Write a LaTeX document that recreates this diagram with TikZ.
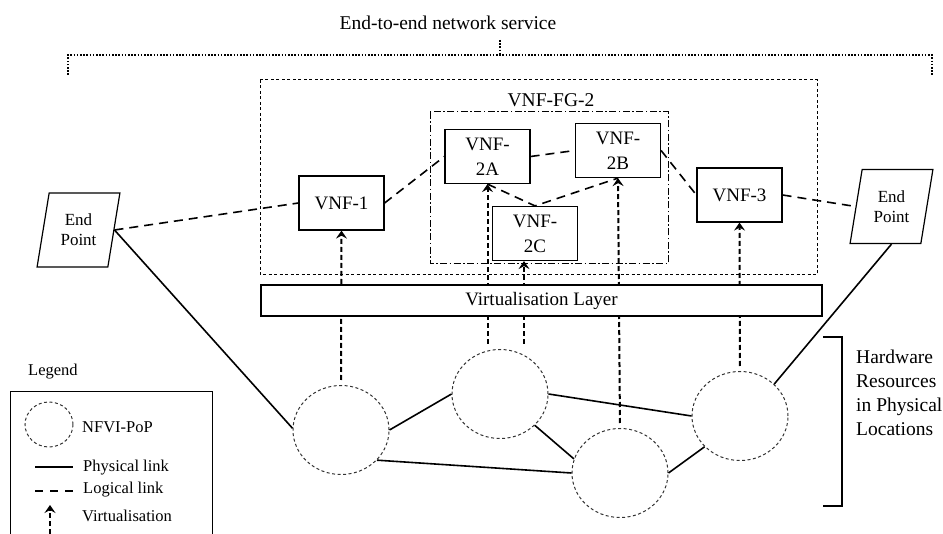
\documentclass[tikz,border=0pt]{standalone}
\usepackage{fontspec}
\setmainfont{Liberation Serif}
\usetikzlibrary{shapes.geometric, arrows.meta}

\begin{document}
\begin{tikzpicture}[x=1pt, y=-1pt,
    vnfbox/.style={draw, line width=1.2pt, fill=white, minimum width=85pt, minimum height=54pt, align=center, inner sep=1pt, font=\fontsize{19}{25}\selectfont},
    endpt/.style={draw, line width=1.2pt, shape=trapezium, trapezium left angle=77, trapezium right angle=103, trapezium stretches=true, minimum width=83pt, minimum height=74pt, align=center, inner sep=0pt, font=\fontsize{17}{20}\selectfont},
    popnode/.style={draw=black!80, shape=ellipse, line width=1pt, dash pattern=on 3pt off 2.5pt, minimum width=96pt, minimum height=89pt, inner sep=0pt},
    phys/.style={line width=1.6pt},
    logic/.style={line width=1.6pt, dash pattern=on 9pt off 6pt},
    virt/.style={line width=2pt, dash pattern=on 5pt off 3pt, -{Stealth[length=8pt, width=11pt, inset=3pt]}, shorten <=5pt},
    lgd/.style={anchor=west, inner sep=0pt, font=\fontsize{16.5}{20}\selectfont},
    bigtxt/.style={inner sep=0pt, font=\fontsize{19.5}{24}\selectfont}
]
    \useasboundingbox (0,0) rectangle (943,534);

    % End-to-end service bracket
    \node[bigtxt] (e2e) at (448,23) {End-to-end network service};
    \draw[line width=2pt, dash pattern=on 1.6pt off 1.6pt] (68,75) -- (68,55) -- (932,55) -- (932,75);
    \draw[line width=2pt, dash pattern=on 1.6pt off 1.6pt] (500,40) -- (500,55);

    % Service boxes
    \draw[line width=1pt, dash pattern=on 3pt off 2.5pt] (260,80) rectangle (817,275);
    \draw[line width=1pt, dash pattern=on 7pt off 2.5pt on 1.5pt off 2.5pt] (430,112) rectangle (668,264);
    \node[bigtxt] (fg2) at (551,100) {VNF-FG-2};

    % NFVI-PoPs
    \node[popnode] (c1) at (341,430) {};
    \node[popnode] (c2) at (500,394) {};
    \node[popnode] (c3) at (620,473) {};
    \node[popnode] (c4) at (740,416) {};

    % VNFs
    \node[vnfbox] (vnf1) at (341.5,203) {VNF-1};
    \node[vnfbox] (vnf2a) at (487.5,156.5) {VNF-\\2A};
    \node[vnfbox] (vnf2b) at (618,150.5) {VNF-\\2B};
    \node[vnfbox] (vnf2c) at (535,233.5) {VNF-\\2C};
    \node[vnfbox] (vnf3) at (739.5,195) {VNF-3};

    % End points
    \node[endpt] (ep1) at (78.5,230) {End\\Point};
    \node[endpt] (ep2) at (891.5,206.5) {End\\Point};

    % Logical links
    \draw[logic] (ep1.east) -- (vnf1.west);
    \draw[logic] (vnf1.east) -- (vnf2a.west);
    \draw[logic] (vnf2a.east) -- (vnf2b.west);
    \draw[logic] (vnf2a.south) -- (vnf2c.north) -- (vnf2b.south);
    \draw[logic] (vnf2b.east) -- (vnf3.west);
    \draw[logic] (vnf3.east) -- (ep2.west);

    % Physical links
    \draw[phys] (ep1.east) -- (c1.178);
    \draw[phys] (c1.0) -- (c2.180);
    \draw[phys] (c1.320) -- (c3.180);
    \draw[phys] (c2.318) -- (c3.163);
    \draw[phys] (c2.0) -- (c4.180);
    \draw[phys] (c3.0) -- (c4.221);
    \draw[phys] (c4.43) -- (ep2.south);

    % Virtualisation
    \coordinate (v2c) at ([xshift=-11pt]vnf2c.south);
    \draw[virt] (c1.north) -- (vnf1.south);
    \draw[virt] (vnf2a.south |- c2.north) -- (vnf2a.south);
    \draw[virt] (v2c |- c2.north) -- (v2c);
    \draw[virt] (c3.north) -- (vnf2b.south);
    \draw[virt] (c4.north) -- (vnf3.south);

    % Virtualisation layer (over the arrows)
    \node[draw, line width=1.2pt, fill=white, minimum width=561pt, minimum height=31pt, inner sep=0pt, font=\fontsize{19}{22}\selectfont] (vlayer) at (541.5,300.5) {Virtualisation Layer};

    % Hardware bracket
    \draw[line width=1.6pt] (823,337) -- (842,337) -- (842,506) -- (823,506);
    \node[bigtxt, anchor=west, align=left] (hw) at (856,392.5) {Hardware\\Resources\\in Physical\\Locations};

    % Legend
    \node[lgd] (lgdtitle) at (28,372) {Legend};
    \draw[line width=1pt] (10,534) |- (212,392) -- (212,534);
    \node[popnode, minimum width=48pt, minimum height=45pt] (lgdpop) at (49,424.5) {};
    \node[lgd] (lgdpoptxt) at (82,427) {NFVI-PoP};
    \draw[phys] (35,467) -- (73,467);
    \node[lgd] (lgdphys) at (83,468) {Physical link};
    \draw[logic, dash pattern=on 8pt off 7pt] (35,491) -- (73,491);
    \node[lgd] (lgdlogic) at (83,490) {Logical link};
    \draw[virt, shorten <=0pt] (50,534) -- (50,505);
    \node[lgd] (lgdvirt) at (82,516) {Virtualisation};
\end{tikzpicture}
\end{document}
